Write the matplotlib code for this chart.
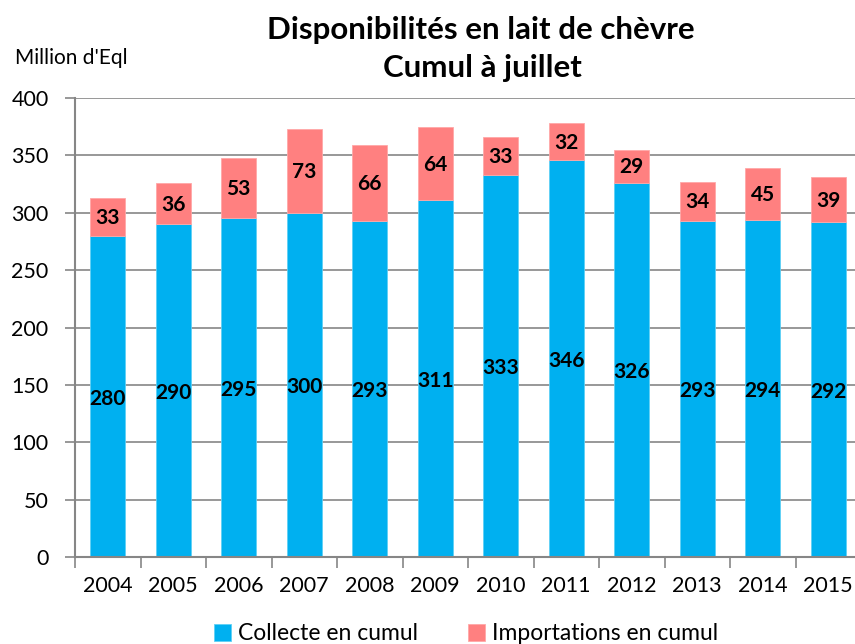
import matplotlib.pyplot as plt
import numpy as np

years = ["2004", "2005", "2006", "2007", "2008", "2009",
         "2010", "2011", "2012", "2013", "2014", "2015"]
collecte = [280, 290, 295, 300, 293, 311, 333, 346, 326, 293, 294, 292]
importations = [33, 36, 53, 73, 66, 64, 33, 32, 29, 34, 45, 39]

BLUE = "#00B0F0"
PINK = "#FF8080"
GRID = "#868686"

plt.rcParams["font.family"] = ["Lato", "DejaVu Sans"]

fig = plt.figure(figsize=(8.55, 6.44), dpi=100)
ax = fig.add_axes([75 / 855, 87 / 644, 786 / 855, 459 / 644])

x = np.arange(len(years))
b1 = ax.bar(x, collecte, width=0.53, color=BLUE, edgecolor="#5FD0F5",
            linewidth=0.6, label="Collecte en cumul", zorder=2)
b2 = ax.bar(x, importations, width=0.53, bottom=collecte, color=PINK,
            edgecolor="#FFA8A8", linewidth=0.6,
            label="Importations en cumul", zorder=2)

for i in range(len(years)):
    ax.text(x[i], collecte[i] / 2 - 2, str(collecte[i]), ha="center",
            va="center", fontsize=15, fontweight="bold", zorder=3)
    ax.text(x[i], collecte[i] + importations[i] / 2 - 1, str(importations[i]),
            ha="center", va="center", fontsize=15, fontweight="bold",
            zorder=3)

ax.set_xlim(-0.5, len(years) - 0.5)
ax.set_ylim(0, 400)
ax.set_yticks(range(0, 401, 50))
ax.yaxis.grid(True, color=GRID, linewidth=1.2, zorder=0)
ax.set_axisbelow(True)

ax.set_xticks(x)
ax.set_xticklabels(years)
ax.set_xticks(np.arange(-0.5, len(years), 1), minor=True)
ax.tick_params(axis="x", which="major", length=0, pad=14, labelsize=15.5)
ax.tick_params(axis="x", which="minor", length=8, width=1.2, color=GRID,
               direction="out")
ax.tick_params(axis="y", length=7, width=1.2, color=GRID, direction="out",
               labelsize=15.5, pad=12)

for s in ["top", "right"]:
    ax.spines[s].set_visible(False)
for s in ["left", "bottom"]:
    ax.spines[s].set_color(GRID)
    ax.spines[s].set_linewidth(1.5)

fig.text(481 / 855, 1 - 30 / 644, "Disponibilités en lait de chèvre",
         ha="center", va="center", fontsize=22.5, fontweight="bold")
fig.text(482 / 855, 1 - 68 / 644, "Cumul à juillet",
         ha="center", va="center", fontsize=22.5, fontweight="bold")
fig.text(15 / 855, 1 - 58 / 644, "Million d'Eql", ha="left", va="center",
         fontsize=15)

fig.legend(handles=[b1, b2], loc="center", ncol=2, frameon=False,
           bbox_to_anchor=(466 / 855, 1 - 634 / 644), fontsize=16.5,
           handlelength=0.75, handleheight=0.75, handletextpad=0.3,
           columnspacing=2.2, borderaxespad=0)

fig.savefig("out.png", dpi=100)
